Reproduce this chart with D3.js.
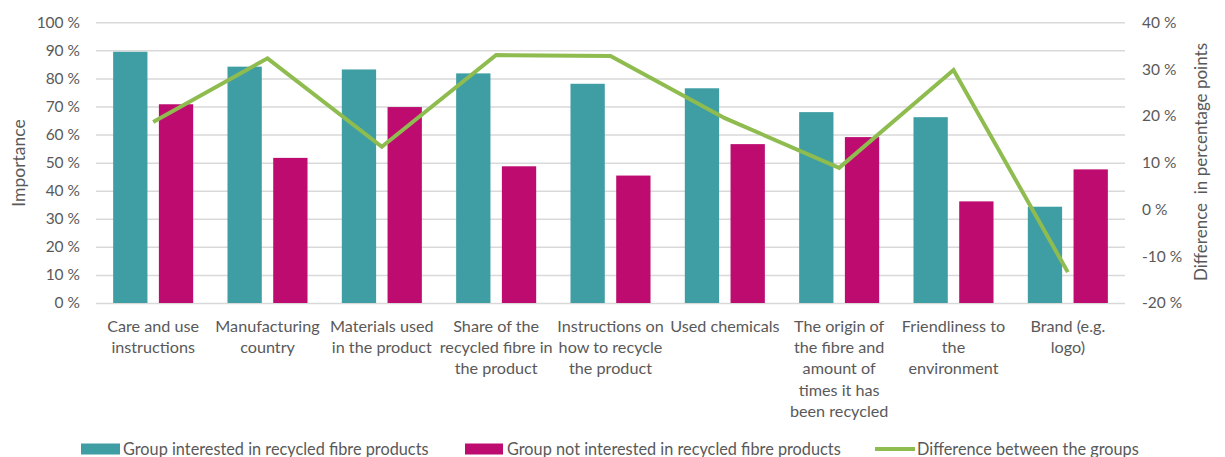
<!DOCTYPE html>
<html>
<head>
<meta charset="utf-8">
<script src="https://cdn.jsdelivr.net/npm/d3@7"></script>
<style>
  html, body { margin: 0; padding: 0; background: #fff; }
  svg { display: block; font-family: Lato, "Open Sans", sans-serif; }
</style>
</head>
<body>
<svg id="chart" width="1225" height="457"></svg>
<script>
const categories = [
  ["Care and use", "instructions"],
  ["Manufacturing", "country"],
  ["Materials used", "in the product"],
  ["Share of the", "recycled fibre in", "the product"],
  ["Instructions on", "how to recycle", "the product"],
  ["Used chemicals"],
  ["The origin of", "the fibre and", "amount of", "times it has", "been recycled"],
  ["Friendliness to", "the", "environment"],
  ["Brand (e.g.", "logo)"]
];
const interested    = [89.5, 84.2, 83.2, 81.8, 78.1, 76.5, 68.0, 66.2, 34.3];
const notInterested = [70.8, 51.7, 69.8, 48.7, 45.4, 56.6, 59.1, 36.2, 47.6];
const difference    = [18.7, 32.3, 13.4, 33.0, 32.8, 19.5, 8.9, 29.8, -13.4];
const leftTicks  = [0, 10, 20, 30, 40, 50, 60, 70, 80, 90, 100];
const rightTicks = [-20, -10, 0, 10, 20, 30, 40];
const seriesNames = [
  "Group interested in recycled fibre products",
  "Group not interested in recycled fibre products",
  "Difference between the groups"
];

const colTeal = "#3f9ea4", colPink = "#bd0b70", colGreen = "#8fbc4f";
const textCol = "#595959", gridCol = "#d9d9d9";

const svg = d3.select("#chart");
const m = { left: 96, right: 1125, top: 22.3, bottom: 303 };

const x = d3.scaleBand().domain(d3.range(categories.length)).range([m.left, m.right]).paddingInner(0).paddingOuter(0);
const inner = d3.scaleBand().domain([0, 1]).range([0, x.bandwidth()]).paddingInner(0.25).paddingOuter(0.375);
const yL = d3.scaleLinear().domain([0, 100]).range([m.bottom, m.top]);
const yR = d3.scaleLinear().domain([-20, 40]).range([m.bottom, m.top]);

// gridlines
svg.append("g")
  .attr("transform", `translate(${m.left},0)`)
  .call(d3.axisLeft(yL).tickValues(leftTicks).tickSize(-(m.right - m.left)).tickFormat(""))
  .call(g => g.select(".domain").remove())
  .call(g => g.selectAll("line").attr("stroke", gridCol).attr("stroke-width", 1.5));

// left axis labels
svg.append("g")
  .attr("transform", `translate(${m.left - 16},0)`)
  .call(d3.axisLeft(yL).tickValues(leftTicks).tickSize(0).tickPadding(0).tickFormat(d => d + " %"))
  .call(g => g.select(".domain").remove())
  .call(g => g.selectAll("text").attr("fill", textCol).style("font-size", "15.5px").style("font-family", "Lato, sans-serif"));

// right axis labels
svg.append("g")
  .attr("transform", `translate(${m.right + 17},0)`)
  .call(d3.axisRight(yR).tickValues(rightTicks).tickSize(0).tickPadding(0).tickFormat(d => d + " %"))
  .call(g => g.select(".domain").remove())
  .call(g => g.selectAll("text").attr("fill", textCol).style("font-size", "15.5px").style("font-family", "Lato, sans-serif"));

// bars
const bars = svg.append("g");
bars.selectAll("rect.a").data(interested).join("rect")
  .attr("class", "a")
  .attr("x", (d, i) => x(i) + inner(0)).attr("width", inner.bandwidth())
  .attr("y", d => yL(d)).attr("height", d => yL(0) - yL(d))
  .attr("fill", colTeal);
bars.selectAll("rect.b").data(notInterested).join("rect")
  .attr("class", "b")
  .attr("x", (d, i) => x(i) + inner(1)).attr("width", inner.bandwidth())
  .attr("y", d => yL(d)).attr("height", d => yL(0) - yL(d))
  .attr("fill", colPink);

// line
const line = d3.line().x((d, i) => x(i) + x.bandwidth() / 2).y(d => yR(d));
svg.append("path").datum(difference)
  .attr("d", line).attr("fill", "none")
  .attr("stroke", colGreen).attr("stroke-width", 4).attr("stroke-linejoin", "miter");

// category labels
const cat = svg.append("g");
categories.forEach((lines, i) => {
  const t = cat.append("text")
    .attr("x", x(i) + x.bandwidth() / 2).attr("y", 332)
    .attr("text-anchor", "middle").attr("fill", textCol)
    .style("font-size", "16.2px");
  lines.forEach((l, j) => t.append("tspan").attr("x", x(i) + x.bandwidth() / 2).attr("dy", j === 0 ? 0 : 21.2).text(l));
});

// axis titles
svg.append("text").attr("transform", "translate(25,163) rotate(-90)")
  .attr("text-anchor", "middle").attr("fill", textCol).style("font-size", "17.5px").text("Importance");
svg.append("text").attr("transform", "translate(1207,162) rotate(-90)")
  .attr("text-anchor", "middle").attr("fill", textCol).style("font-size", "17px")
  .attr("xml:space", "preserve").style("white-space", "pre").text("Difference  in percentage points");

// legend
const lg = svg.append("g").style("font-size", "16.3px");
const legendX = [81, 465, 875];
lg.append("rect").attr("x", legendX[0]).attr("y", 443.5).attr("width", 39).attr("height", 11).attr("fill", colTeal);
lg.append("rect").attr("x", legendX[1]).attr("y", 443.5).attr("width", 38).attr("height", 11).attr("fill", colPink);
lg.append("line").attr("x1", legendX[2]).attr("x2", legendX[2] + 40).attr("y1", 449).attr("y2", 449)
  .attr("stroke", colGreen).attr("stroke-width", 4);
seriesNames.forEach((n, i) => {
  lg.append("text").attr("x", legendX[i] + (i === 2 ? 42 : 42)).attr("y", 454.5)
    .attr("fill", textCol).text(n);
});
</script>
</body>
</html>
